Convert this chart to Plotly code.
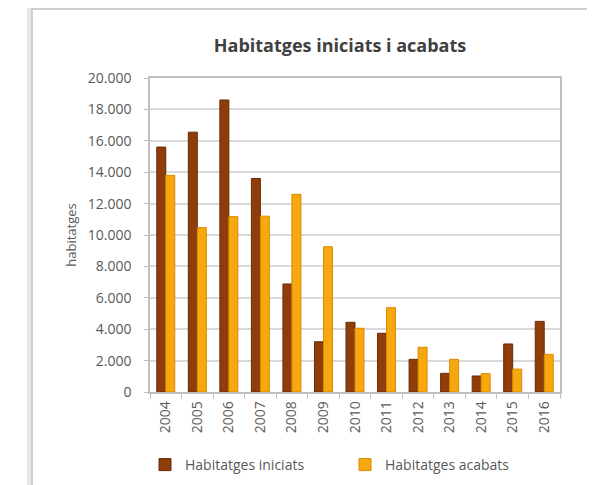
import plotly.graph_objects as go

years = ["2004", "2005", "2006", "2007", "2008", "2009", "2010",
         "2011", "2012", "2013", "2014", "2015", "2016"]
iniciats = [15600, 16550, 18600, 13600, 6880, 3200, 4440,
            3740, 2080, 1190, 1020, 3060, 4500]
acabats = [13800, 10470, 11170, 11200, 12590, 9250, 4060,
           5370, 2850, 2080, 1170, 1460, 2400]

name_ini = "Habitatges iniciats"
name_aca = "Habitatges acabats"
title_text = "Habitatges iniciats i acabats"
y_title = "habitatges"
y_ticks = [0, 2000, 4000, 6000, 8000, 10000, 12000, 14000, 16000, 18000, 20000]

FONT = "Open Sans"
OFF = 8  # page body margin
W, H = 595 - OFF, 485 - OFF
L, R, T, B = 150 - OFF, 35, 78 - OFF, 93
pw, ph = W - L - R, H - T - B


def px_x(x):  # x in screenshot pixels -> paper
    return (x - OFF - L) / pw


def px_y(y):  # y in screenshot pixels -> paper
    return (H - B - (y - OFF)) / ph


fig = go.Figure()
fig.add_trace(go.Bar(
    x=years, y=iniciats, name=name_ini,
    marker=dict(color="#8E3D0B", line=dict(color="#6A2B05", width=1)),
))
fig.add_trace(go.Bar(
    x=years, y=acabats, name=name_aca,
    marker=dict(color="#F7A80F", line=dict(color="#D88A00", width=1)),
))

shapes = [
    dict(type="rect", xref="paper", yref="paper", layer="below",
         x0=px_x(27), x1=px_x(640), y0=px_y(520), y1=px_y(7),
         fillcolor="#E6E6E6", line=dict(width=0)),
    dict(type="rect", xref="paper", yref="paper", layer="below",
         x0=px_x(32), x1=px_x(640), y0=px_y(520), y1=px_y(9),
         fillcolor="#FFFFFF", line=dict(color="#C4C4C4", width=1.5)),
]

fig.update_layout(
    width=W, height=H,
    margin=dict(l=L, r=R, t=T, b=B, autoexpand=False),
    paper_bgcolor="white", plot_bgcolor="white",
    separators=",.",
    barmode="group", bargap=0.43, bargroupgap=0.0,
    font=dict(family=FONT, color="#595959", size=14),
    title=dict(text="<b>" + title_text + "</b>", x=(340 - OFF) / W, xref="container",
               xanchor="center", y=1 - (46 - OFF) / H, yref="container", yanchor="middle",
               font=dict(family=FONT, size=18, color="#404040")),
    showlegend=True,
    legend=dict(orientation="h", xref="container", yref="container",
                x=(145 - OFF) / W, xanchor="left", y=1 - (465 - OFF) / H, yanchor="middle",
                entrywidth=155, entrywidthmode="pixels",
                font=dict(family=FONT, size=14, color="#595959"),
                bgcolor="rgba(0,0,0,0)", traceorder="normal"),
    shapes=shapes,
)

fig.update_xaxes(
    type="category", showline=True, linecolor="#BFBFBF", linewidth=1.5,
    mirror=True, ticks="outside", tickson="boundaries", ticklen=5,
    tickcolor="#BFBFBF", tickangle=-90, ticklabelstandoff=2,
    tickfont=dict(family=FONT, size=14, color="#595959"),
    showgrid=False, fixedrange=True,
)
fig.update_yaxes(
    range=[0, 20000], tickvals=y_ticks, tickformat=",d",
    showline=True, linecolor="#BFBFBF", linewidth=1.5, mirror=True,
    ticks="outside", ticklen=4, tickcolor="#BFBFBF", ticklabelstandoff=10,
    showgrid=True, gridcolor="#D9D9D9", gridwidth=1.5,
    zeroline=False,
    tickfont=dict(family=FONT, size=14, color="#595959"),
    title=dict(text=y_title, standoff=8,
               font=dict(family=FONT, size=13, color="#595959")),
    fixedrange=True,
)

fig.write_html("out.html")
